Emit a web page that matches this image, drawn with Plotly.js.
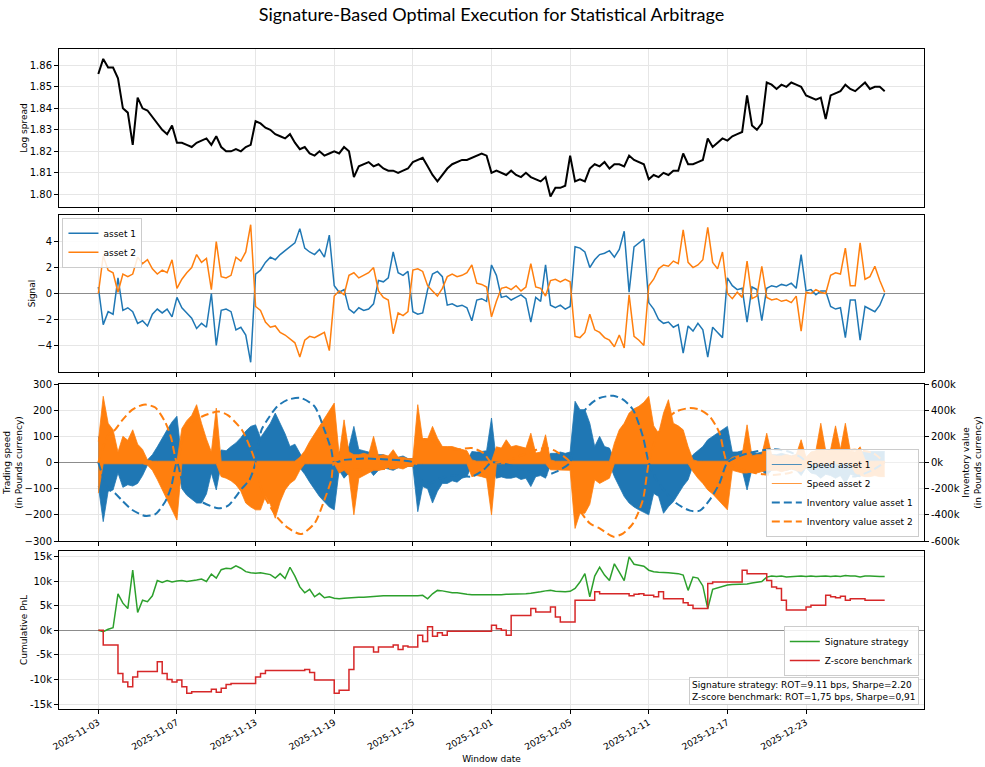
<!DOCTYPE html>
<html>
<head>
<meta charset="utf-8">
<script src="https://cdn.plot.ly/plotly-3.0.1.min.js"></script>
<style>html,body{margin:0;padding:0;background:#fff;}#chart{width:985px;height:767px;}</style>
</head>
<body>
<div id="chart"></div>
<script>
// ---------- DATA ----------
// x positions are trading-day offsets of each window from 2025-11-03, sampled every 0.25 day
const sampleStep = 0.25;
const tickPositions = [0, 4, 8, 12, 16, 20, 24, 28, 32, 36];
const tickDates = ['2025-11-03','2025-11-07','2025-11-13','2025-11-19','2025-11-25','2025-12-01','2025-12-05','2025-12-11','2025-12-17','2025-12-23'];

// log spread (one row = one trading day, 4 samples)
const logSpread = [
 1.856,1.863,1.859,1.859, 1.854,1.840,1.838,1.823, 1.845,1.840,1.839,1.836, 1.833,1.830,1.828,1.832,
 1.824,1.824,1.823,1.822, 1.824,1.825,1.826,1.823, 1.827,1.822,1.820,1.820, 1.821,1.820,1.822,1.823,
 1.834,1.833,1.831,1.830, 1.828,1.827,1.826,1.828, 1.824,1.821,1.822,1.819, 1.818,1.820,1.818,1.819,
 1.820,1.819,1.822,1.820, 1.808,1.813,1.814,1.815, 1.813,1.814,1.812,1.811, 1.811,1.810,1.811,1.812,
 1.815,1.816,1.817,1.813, 1.809,1.806,1.809,1.812, 1.814,1.815,1.816,1.816, 1.817,1.818,1.819,1.818,
 1.810,1.811,1.810,1.809, 1.811,1.809,1.808,1.810, 1.808,1.807,1.806,1.808, 1.799,1.803,1.803,1.804,
 1.818,1.806,1.807,1.806, 1.812,1.814,1.813,1.815, 1.812,1.814,1.814,1.813, 1.818,1.816,1.815,1.814,
 1.807,1.809,1.808,1.810, 1.809,1.811,1.811,1.819, 1.814,1.814,1.815,1.816, 1.826,1.822,1.824,1.826,
 1.825,1.827,1.828,1.829, 1.846,1.832,1.830,1.833, 1.852,1.851,1.849,1.851, 1.850,1.852,1.851,1.850,
 1.846,1.845,1.844,1.845, 1.835,1.846,1.847,1.848, 1.851,1.849,1.848,1.850, 1.852,1.849,1.850,1.850,
 1.848
];

// signals
const signalAsset1 = [
 0.5,-2.4,-1.4,-1.6, 1.2,-1.3,-1.1,-1.4, -2.3,-2.1,-2.5,-1.6, -1.2,-1.5,-1.2,-1.8,
 -0.3,-1.1,-1.5,-1.9, -2.7,-2.3,-2.6,0.0, -4.0,-1.3,-1.2,-1.4, -2.8,-2.6,-3.2,-5.3,
 1.5,1.8,2.4,2.8, 2.6,3.0,3.3,3.6, 3.9,5.0,3.5,3.2, 3.0,3.4,2.8,4.5,
 0.6,0.1,0.3,-1.2, -1.5,-1.1,-1.3,-1.2, -0.8,1.0,0.9,1.2, 3.2,1.6,1.4,1.7,
 -1.4,-1.6,-1.5,0.3, 1.5,1.7,1.3,-0.9, -0.8,-1.0,-0.9,-1.1, -2.1,-0.5,-0.4,-0.6,
 2.2,1.4,-0.3,-0.2, -0.5,-0.3,-0.1,-0.4, -2.2,-0.3,-0.6,2.2, -0.9,-1.1,-0.9,-1.2,
 -1.0,3.6,3.5,3.2, 2.0,2.6,3.0,3.1, 3.3,2.8,3.4,4.8, 0.1,3.6,3.9,4.2,
 -0.7,-1.2,-2.0,-2.3, -2.2,-2.6,-2.4,-4.6, -2.5,-2.9,-2.3,-2.8, -4.9,-2.6,-3.0,-3.4,
 1.2,0.6,0.3,0.4, -2.2,0.5,0.3,-2.1, 0.4,0.6,0.5,0.7, 0.6,0.8,0.4,3.0,
 0.2,0.3,-0.1,0.2, 0.2,-1.0,-1.2,-1.1, -3.4,-0.5,-0.5,-3.6, -1.0,-1.2,-1.4,-0.9,
 0.0
];
const signalAsset2 = [
 0.0,2.9,1.8,1.6, 0.1,1.5,1.3,1.5, 2.8,2.3,2.6,1.9, 1.5,1.8,1.6,2.6,
 0.4,1.1,1.6,2.0, 3.0,2.4,2.7,0.3, 4.0,1.3,1.2,1.4, 2.8,2.5,3.2,5.3,
 -1.0,-1.3,-2.2,-2.6, -2.5,-3.0,-3.2,-3.5, -3.8,-4.9,-3.6,-3.3, -3.4,-3.2,-3.0,-4.4,
 -0.2,0.2,-0.1,1.4, 1.6,1.2,1.4,1.6, 2.0,0.2,-0.3,-0.5, -3.1,-1.5,-1.7,-1.4,
 1.8,1.9,1.7,0.6, 0.2,-0.2,0.4,1.3, 1.5,1.3,1.4,1.6, 2.2,0.8,0.7,0.5,
 -1.8,-0.6,0.4,0.5, 0.3,0.6,0.2,0.5, 2.3,0.5,0.4,-0.2, 1.0,1.1,0.9,1.1,
 0.9,-3.3,-3.4,-3.0, -1.6,-2.8,-3.0,-3.4, -3.6,-4.1,-3.2,-4.2, -0.1,-3.3,-3.6,-4.0,
 0.6,1.1,1.9,2.2, 2.1,2.5,2.3,4.9, 2.4,2.0,2.2,2.6, 5.1,2.4,1.9,3.2,
 0.0,-0.4,0.1,-0.3, 2.5,-0.4,-0.2,2.1, -0.3,-0.5,-0.4,-0.6, -0.5,-0.7,-0.2,-2.9,
 0.1,0.0,0.3,0.1, 0.0,1.4,1.6,1.5, 3.5,0.6,0.6,3.9, 1.1,1.3,2.1,1.0,
 0.1
];

// trading speed: upper and lower envelope of the dense oscillation
const speed1High = [
 100,5,5,5, 5,5,5,5, 5,5,10,30, 60,95,125,155, 177,5,5,5, 5,5,5,5, 5,48,45,61, 75,95,120,138,
 144,95,125,150, 189,150,110,61, 70,36,5,5, 5,5,5,5, 5,40,50,60, 138,50,45,40, 30,30,30,20, 25,20,25,15,
 15,5,5,5, 5,5,5,5, 5,5,5,5, 42,40,42,45, 170,5,5,5, 5,5,5,5, 5,5,5,5, 35,35,40,35,
 40,234,202,202, 150,61,100,61, 55,10,5,5, 5,5,5,5, 5,5,5,5, 5,5,5,5, 5,30,45,61, 87,100,115,125,
 138,40,40,45, 50,40,35,40, 35,30,30,35, 30,25,30,35, 20,5,5,5, 5,5,5,5, 5,5,30,40, 42,42,40,42,
 42
];
const speed1Low = [
 -90,-226,-110,-105, -40,-95,-85,-90, -80,-50,-10,-5, -5,-5,-5,-5, -5,-100,-125,-140, -155,-155,-120,-40, -105,-5,-5,-5, -5,-5,-5,-5,
 -5,-5,-5,-5, -5,-5,-5,-5, -5,-20,-45,-75, -105,-130,-150,-170, -181,-30,-60,-40, -20,-40,-30,-25, -50,-30,-20,-25, -30,-20,-20,-15,
 -15,-188,-92,-100, -155,-110,-80,-80, -70,-75,-60,-54, -10,-5,-5,-5, -5,-60,-55,-60, -60,-55,-65,-60, -92,-54,-50,-60, -10,-5,-5,-5,
 -5,-5,-5,-5, -5,-5,-5,-5, -5,-54,-92,-130, -155,-170,-181,-190, -200,-118,-130,-194, -169,-150,-118,-90, -66,-10,-5,-5, -5,-5,-5,-5,
 -5,-20,-25,-30, -105,-25,-30,-30, -50,-30,-25,-25, -30,-25,-30,-50, -20,-40,-45,-60, -45,-50,-60,-50, -80,-45,-50,-55, -10,-5,-5,-5,
 -5
];
const speed2High = [
 80,253,150,125, 40,100,85,125, 70,50,10,5, 5,5,5,5, 5,130,160,180, 221,150,90,40, 208,5,5,5, 5,5,5,5,
 5,5,5,5, 5,5,5,5, 5,20,45,80, 110,140,170,200, 227,30,163,40, 30,30,35,30, 100,25,30,25, 49,20,20,15,
 15,221,87,90, 138,93,61,61, 61,55,50,45, 10,5,5,5, 5,60,55,87, 60,65,60,55, 112,36,40,106, 10,5,5,5,
 5,5,5,5, 5,5,5,5, 5,74,125,150, 189,205,215,230, 253,140,112,189, 240,150,140,125, 61,10,5,5, 5,5,5,5,
 5,20,25,30, 144,25,30,30, 112,30,25,25, 30,25,30,87, 20,40,45,150, 45,50,140,50, 150,45,40,60, 10,5,5,5,
 5
];
const speed2Low = [
 -117,-5,-5,-5, -5,-5,-5,-5, -5,-5,-10,-30, -65,-105,-145,-185, -220,-5,-5,-5, -5,-5,-5,-5, -5,-54,-60,-70, -85,-110,-155,-170,
 -181,-181,-130,-160, -213,-150,-105,-80, -66,-30,-5,-5, -5,-5,-5,-5, -5,-40,-30,-50, -200,-60,-50,-40, -30,-30,-25,-20, -25,-20,-25,-15,
 -15,-5,-5,-5, -5,-5,-5,-5, -5,-5,-5,-5, -54,-50,-54,-60, -200,-5,-5,-5, -5,-5,-5,-5, -5,-5,-5,-5, -28,-28,-30,-28,
 -30,-252,-194,-194, -160,-66,-80,-70, -60,-5,-5,-5, -5,-5,-5,-5, -5,-5,-5,-5, -5,-5,-5,-5, -5,-35,-60,-80, -105,-120,-140,-162,
 -181,-30,-35,-40, -40,-35,-40,-35, -30,-30,-30,-35, -30,-25,-30,-35, -20,-5,-5,-5, -5,-5,-5,-5, -5,-5,-40,-50, -54,-54,-50,-54,
 -54
];

// inventory value (thousand pounds) at the listed window positions
const inventoryDays = [0,0.5,0.85,1.2,1.7,2.2,2.45,2.9,3.4,3.7,4.0,
 4.3,4.55,5.25,6.1,6.6,7.3,7.7,8.0,
 8.3,8.6,9.1,9.65,10.3,11.0,11.5,11.85,12.0,
 12.5,13.5,14.5,15.5,16.0,
 16.4,16.9,17.4,18.1,19.0,19.6,20.0,
 20.9,21.6,22.3,22.8,23.3,24.0,
 24.3,25.0,25.5,26.2,26.7,27.2,27.7,28.0,
 28.4,28.9,29.4,30.1,30.6,31.1,31.6,32.0,
 32.8,33.45,34.3,35.1,35.8,36.0,
 36.8,37.7,38.5,39.4,40.0];
const inventory1 = [0,-200,-235,-290,-360,-400,-409,-395,-300,-190,0,
 -160,-210,-300,-350,-330,-200,-130,0,
 250,327,429,480,493,429,250,97,0,
 20,30,25,15,0,
 -133,-158,-120,-95,-107,-56,0,
 -18,-56,-82,-95,-70,0,
 301,442,493,510,480,403,199,0,
 -133,-235,-312,-368,-368,-286,-158,0,
 59,84,102,84,33,0,
 -56,-95,-107,-56,0];
const inventory2 = [0,210,250,320,400,438,442,420,310,190,0,
 190,290,350,390,360,250,123,0,
 -210,-300,-420,-500,-547,-465,-286,-133,0,
 -40,-56,-50,-30,0,
 174,174,120,97,110,72,0,
 20,59,97,110,84,0,
 -312,-465,-503,-567,-541,-465,-286,0,
 199,327,391,416,403,352,225,0,
 -56,-82,-95,-82,-43,0,
 46,84,97,72,0];

// cumulative PnL (thousand pounds)
const pnlSignature = [
 0.0,-0.3,0.2,0.5, 7.4,5.5,4.4,12.2, 3.6,6.1,5.8,7.0, 10.1,9.7,10.1,9.8, 10.0,10.1,9.9,10.0, 10.2,10.4,9.9,11.4,
 10.6,12.3,12.6,12.5, 13.1,12.6,11.9,11.7, 11.6,11.7,11.5,11.3, 10.6,11.5,10.5,12.8, 11.0,8.8,7.6,8.3, 6.8,7.5,6.6,6.8,
 6.5,6.4,6.5,6.6, 6.6,6.7,6.7,6.8, 6.8,6.9,7.0,7.0, 7.0,7.0,7.0,6.9, 7.0,7.0,7.1,6.4, 7.4,8.1,8.0,7.8,
 7.6,7.6,7.4,7.3, 7.2,7.2,7.1,7.1, 7.1,7.2,7.2,7.3, 7.3,7.3,7.4,7.4, 7.5,7.6,7.8,8.0, 8.1,7.9,7.8,7.8,
 7.9,8.5,9.8,11.5, 6.8,11.0,12.8,11.2, 10.1,13.5,11.8,10.1, 14.9,13.4,13.2,13.0, 12.2,11.9,11.8,11.8, 11.7,11.6,11.5,11.2,
 8.1,10.8,10.6,9.0, 4.4,8.3,8.6,9.0, 9.2,9.3,9.3,9.4, 9.4,9.6,9.8,9.9, 10.8,11.0,10.9,11.0, 10.8,10.9,11.0,11.0,
 10.9,11.0,10.9,11.0, 11.0,10.9,11.0,10.9, 11.1,11.0,11.0,10.8, 11.0,11.0,10.9,10.9,
 10.9
];
const pnlZscore = [
 0.0,-3.0,-3.0,-3.0, -8.8,-10.5,-11.5,-9.5, -8.4,-8.4,-8.4,-8.4, -6.4,-8.8,-10.0,-10.5, -10.1,-11.5,-12.8,-12.5, -12.5,-12.5,-12.5,-12.0,
 -12.6,-11.8,-11.0,-10.8, -10.8,-10.8,-10.8,-10.8, -9.5,-8.8,-8.2,-8.2, -8.2,-8.2,-8.2,-8.2, -8.2,-8.2,-8.0,-8.6, -10.1,-10.1,-10.1,-10.1,
 -12.8,-12.2,-12.2,-8.0, -3.4,-3.4,-3.4,-3.4, -4.4,-3.4,-3.4,-3.4, -3.0,-3.9,-3.2,-3.4, -3.4,-1.0,-2.3,0.7, -1.2,-0.5,-1.0,-0.2,
 -0.2,-0.2,-0.2,-0.2, -0.2,-0.2,-0.2,-0.2, 1.0,0.3,0.0,-1.0, 3.0,3.0,3.0,3.0, 4.4,3.7,3.7,3.7, 4.7,2.7,1.7,1.7,
 1.7,6.1,6.1,6.1, 6.1,7.8,7.4,7.4, 7.4,7.4,7.4,7.4, 7.0,7.3,7.4,7.1, 7.1,6.8,7.8,6.4, 6.4,6.4,6.4,5.6,
 5.1,4.4,4.4,4.4, 9.5,9.8,9.8,9.8, 9.8,9.8,9.8,12.2, 11.5,11.5,11.5,11.5, 10.1,8.8,8.5,6.1, 4.1,4.1,4.1,4.1,
 4.7,5.1,5.1,5.1, 7.1,6.8,6.6,6.9, 6.1,6.4,6.4,6.4, 6.1,6.1,6.1,6.1,
 6.1
];

const speedTicks = [-300,-200,-100,0,100,200,300];
const inventoryTicks = [-600,-400,-200,0,200,400,600];
const pnlTicks = [-15,-10,-5,0,5,10,15];

// ---------- DRAWING ----------
const T = logSpread.map((_, i) => i * sampleStep);
const C1 = '#1f77b4', C2 = '#ff7f0e', CG = '#2ca02c', CR = '#d62728';

const traces = [
  {x: T, y: logSpread, xaxis: 'x', yaxis: 'y', type: 'scatter', mode: 'lines',
   line: {color: 'black', width: 2}, showlegend: false},

  {x: T, y: signalAsset1, xaxis: 'x2', yaxis: 'y2', type: 'scatter', mode: 'lines',
   name: 'asset 1', line: {color: C1, width: 1.5}, legend: 'legend'},
  {x: T, y: signalAsset2, xaxis: 'x2', yaxis: 'y2', type: 'scatter', mode: 'lines',
   name: 'asset 2', line: {color: C2, width: 1.5}, legend: 'legend'},

  {x: T, y: speed1High, xaxis: 'x3', yaxis: 'y3', type: 'scatter', mode: 'lines',
   name: 'Speed asset 1', line: {color: C1, width: 0.8}, legend: 'legend2'},
  {x: T, y: speed1Low, xaxis: 'x3', yaxis: 'y3', type: 'scatter', mode: 'lines', fill: 'tonexty',
   fillcolor: C1, line: {color: C1, width: 0.8}, showlegend: false, legend: 'legend2'},
  {x: T, y: speed2High, xaxis: 'x3', yaxis: 'y3', type: 'scatter', mode: 'lines',
   name: 'Speed asset 2', line: {color: C2, width: 0.8}, legend: 'legend2'},
  {x: T, y: speed2Low, xaxis: 'x3', yaxis: 'y3', type: 'scatter', mode: 'lines', fill: 'tonexty',
   fillcolor: C2, line: {color: C2, width: 0.8}, showlegend: false, legend: 'legend2'},
  {x: inventoryDays, y: inventory1, xaxis: 'x3', yaxis: 'y5', type: 'scatter', mode: 'lines',
   name: 'Inventory value asset 1', line: {color: C1, width: 2, dash: '8px,4px', shape: 'spline', smoothing: 0.7}, legend: 'legend2'},
  {x: inventoryDays, y: inventory2, xaxis: 'x3', yaxis: 'y5', type: 'scatter', mode: 'lines',
   name: 'Inventory value asset 2', line: {color: C2, width: 2, dash: '8px,4px', shape: 'spline', smoothing: 0.7}, legend: 'legend2'},

  {x: T, y: pnlSignature, xaxis: 'x4', yaxis: 'y4', type: 'scatter', mode: 'lines',
   name: 'Signature strategy', line: {color: CG, width: 1.5}, legend: 'legend3'},
  {x: T, y: pnlZscore, xaxis: 'x4', yaxis: 'y4', type: 'scatter', mode: 'lines',
   name: 'Z-score benchmark', line: {color: CR, width: 1.5, shape: 'hv'}, legend: 'legend3'}
];

const GRID = '#e6e6e6';
function xAxis(extra) {
  return Object.assign({
    range: [-2, 42], tickmode: 'array', tickvals: tickPositions, ticktext: tickDates,
    showgrid: true, gridcolor: GRID, gridwidth: 1, zeroline: false,
    ticks: 'outside', ticklen: 4, tickcolor: 'black',
    showline: true, mirror: true, linecolor: 'black', linewidth: 1,
    showticklabels: false
  }, extra);
}
function yAxis(extra) {
  return Object.assign({
    showgrid: true, gridcolor: GRID, gridwidth: 1, zeroline: false,
    ticks: 'outside', ticklen: 4, tickcolor: 'black',
    showline: true, mirror: true, linecolor: 'black', linewidth: 1,
    tickfont: {size: 10}
  }, extra);
}
const H = 660, TOP = 49;
function dom(a, b) { return [1 - (b - TOP) / H, 1 - (a - TOP) / H]; }

const legendBase = {bgcolor: 'rgba(255,255,255,0.85)', bordercolor: '#cccccc', borderwidth: 1,
  font: {size: 9, family: 'DejaVu Sans'}, tracegroupgap: 0, itemwidth: 30, traceorder: 'normal'};

const layout = {
  width: 985, height: 767,
  paper_bgcolor: 'white', plot_bgcolor: 'white',
  margin: {l: 59, r: 61, t: 49, b: 58, pad: 0},
  font: {family: 'DejaVu Sans', size: 10, color: 'black'},
  title: {text: 'Signature-Based Optimal Execution for Statistical Arbitrage',
    x: 0.5, xref: 'paper', xanchor: 'center', y: 1 - 15 / 767, yref: 'container', yanchor: 'middle',
    font: {family: 'Lato', size: 18, color: 'black'}},
  xaxis: xAxis({domain: [0, 1], anchor: 'y'}),
  xaxis2: xAxis({domain: [0, 1], anchor: 'y2', matches: 'x'}),
  xaxis3: xAxis({domain: [0, 1], anchor: 'y3', matches: 'x'}),
  xaxis4: xAxis({domain: [0, 1], anchor: 'y4', matches: 'x', showticklabels: true, tickangle: -30,
    tickfont: {size: 9},
    title: {text: 'Window date', font: {size: 9}, standoff: 4}}),
  yaxis: yAxis({domain: dom(49, 207), anchor: 'x', range: [1.7941, 1.8676],
    tickvals: [1.80, 1.81, 1.82, 1.83, 1.84, 1.85, 1.86], tickformat: '.2f',
    title: {text: 'Log spread', font: {size: 9}, standoff: 0}}),
  yaxis2: yAxis({domain: dom(215, 372), anchor: 'x2', range: [-6.05, 6.05],
    tickvals: [-4, -2, 0, 2, 4], zeroline: true, zerolinecolor: '#8c8c8c', zerolinewidth: 1.3,
    title: {text: 'Signal', font: {size: 9}, standoff: 0}}),
  yaxis3: yAxis({domain: dom(384, 541), anchor: 'x3', range: [-300, 300],
    tickvals: speedTicks, zeroline: true, zerolinecolor: '#8c8c8c', zerolinewidth: 1.3,
    title: {text: 'Trading speed<br>(in Pounds currency)', font: {size: 9}, standoff: 0}}),
  yaxis5: {overlaying: 'y3', side: 'right', anchor: 'x3', range: [-600, 600],
    tickvals: inventoryTicks, ticktext: inventoryTicks.map(v => v + 'k'),
    showgrid: false, zeroline: false, showline: false,
    ticks: 'outside', ticklen: 4, tickcolor: 'black', tickfont: {size: 10},
    title: {text: 'Inventory value<br>(in Pounds currency)', font: {size: 9}, standoff: 4}},
  yaxis4: yAxis({domain: dom(551, 709), anchor: 'x4', range: [-16, 16.1],
    tickvals: pnlTicks, ticktext: pnlTicks.map(v => v + 'k'),
    zeroline: true, zerolinecolor: '#8c8c8c', zerolinewidth: 1.3,
    title: {text: 'Cumulative PnL', font: {size: 9}, standoff: 0}}),
  legend: Object.assign({}, legendBase, {x: 0.004, y: dom(215, 372)[1] - 0.004, xanchor: 'left', yanchor: 'top'}),
  legend2: Object.assign({}, legendBase, {x: 0.994, y: dom(384, 537)[0], xanchor: 'right', yanchor: 'bottom'}),
  legend3: Object.assign({}, legendBase, {x: 0.994, y: dom(551, 676)[0], xanchor: 'right', yanchor: 'bottom'}),
  annotations: [{
    xref: 'paper', yref: 'paper', x: 0.994, y: dom(551, 705)[0], xanchor: 'right', yanchor: 'bottom',
    text: 'Signature strategy: ROT=9.11 bps, Sharpe=2.20<br>Z-score benchmark: ROT=1,75 bps, Sharpe=0,91',
    align: 'left', showarrow: false, bgcolor: 'white', bordercolor: '#cccccc', borderwidth: 1, borderpad: 2,
    font: {size: 9, family: 'DejaVu Sans', color: 'black'}
  }]
};

Plotly.newPlot('chart', traces, layout, {displayModeBar: false, staticPlot: true});
</script>
</body>
</html>
